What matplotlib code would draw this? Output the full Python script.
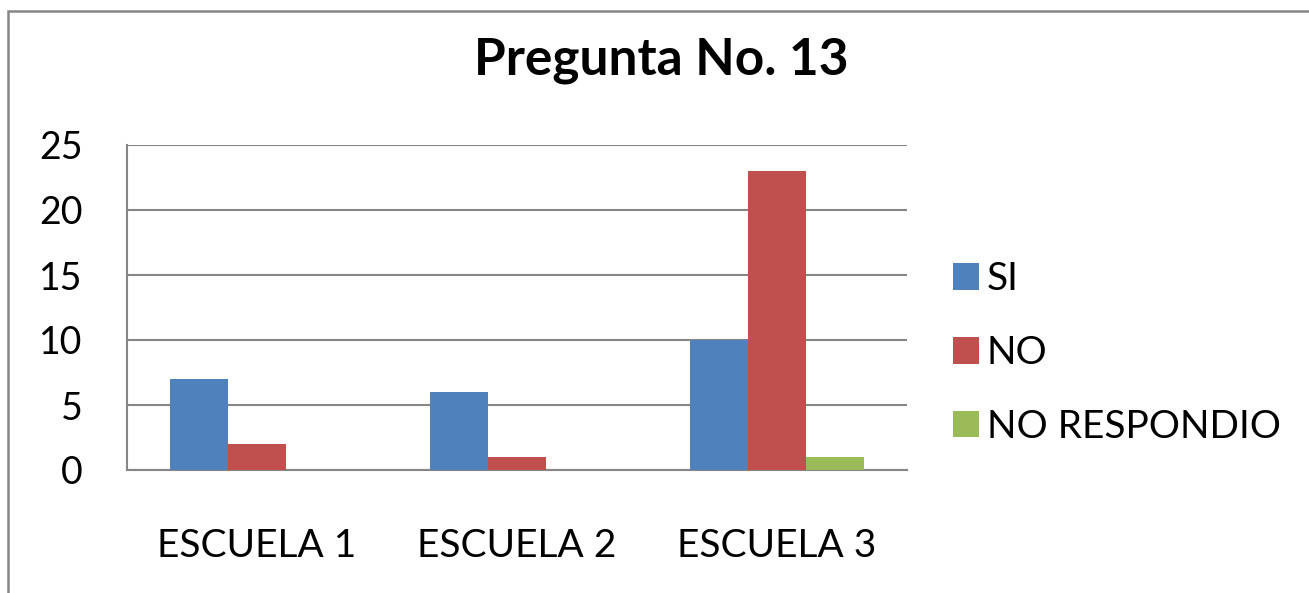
import numpy as np
import matplotlib
matplotlib.use('Agg')
import matplotlib.pyplot as plt
import matplotlib.patches as patches

# data
categories = ['ESCUELA 1', 'ESCUELA 2', 'ESCUELA 3']
series_names = ['SI', 'NO', 'NO RESPONDIO']
si = [7, 6, 10]
no = [2, 1, 23]
no_resp = [0, 0, 1]
yticks = [0, 5, 10, 15, 20, 25]

colors = ['#4F81BD', '#C0504D', '#9BBB59']
gray = '#868686'

plt.rcParams['font.family'] = ['Lato', 'DejaVu Sans']

W, H = 1309, 593
fig = plt.figure(figsize=(W / 100, H / 100), dpi=100)

# outer chart frame (only left and top edges visible in the crop)
frame = patches.Rectangle((7.5 / W, -0.1), 1.2, 1 - 11.5 / H + 0.1,
                          transform=fig.transFigure, fill=False,
                          edgecolor=gray, linewidth=1.8)
fig.patches.append(frame)

# plot area in pixels
left, right, top, bottom = 127, 907, 145, 470
ax = fig.add_axes([left / W, (H - bottom) / H, (right - left) / W, (bottom - top) / H])

x = np.arange(len(categories))
w = 0.223
bars = []
for i, (vals, c) in enumerate(zip([si, no, no_resp], colors)):
    b = ax.bar(x + (i - 1) * w, vals, w, color=c, zorder=3, label=series_names[i])
    bars.append(b)

ax.set_xlim(-0.5, 2.5)
ax.set_ylim(0, 25)
ax.set_yticks(yticks)
ax.set_xticks(x)
ax.set_xticklabels(categories)
ax.tick_params(axis='y', length=0, labelsize=27, pad=32)
ax.tick_params(axis='x', length=0, labelsize=28, pad=42)
ax.grid(axis='y', color=gray, linewidth=1.5, zorder=0)
for s in ['top', 'right']:
    ax.spines[s].set_visible(False)
for s in ['left', 'bottom']:
    ax.spines[s].set_color(gray)
    ax.spines[s].set_linewidth(1.5)

fig.text(661 / W, 1 - 74 / H, 'Pregunta No. 13', ha='center', va='baseline',
         fontsize=37, fontweight='bold')

fig.legend(handles=bars, labels=series_names, loc='center left',
           bbox_to_anchor=(918 / W, 1 - 353 / H), frameon=False,
           fontsize=28, handlelength=0.67, handleheight=0.67,
           handletextpad=0.2, labelspacing=0.97)

fig.savefig('out.png', dpi=100)
